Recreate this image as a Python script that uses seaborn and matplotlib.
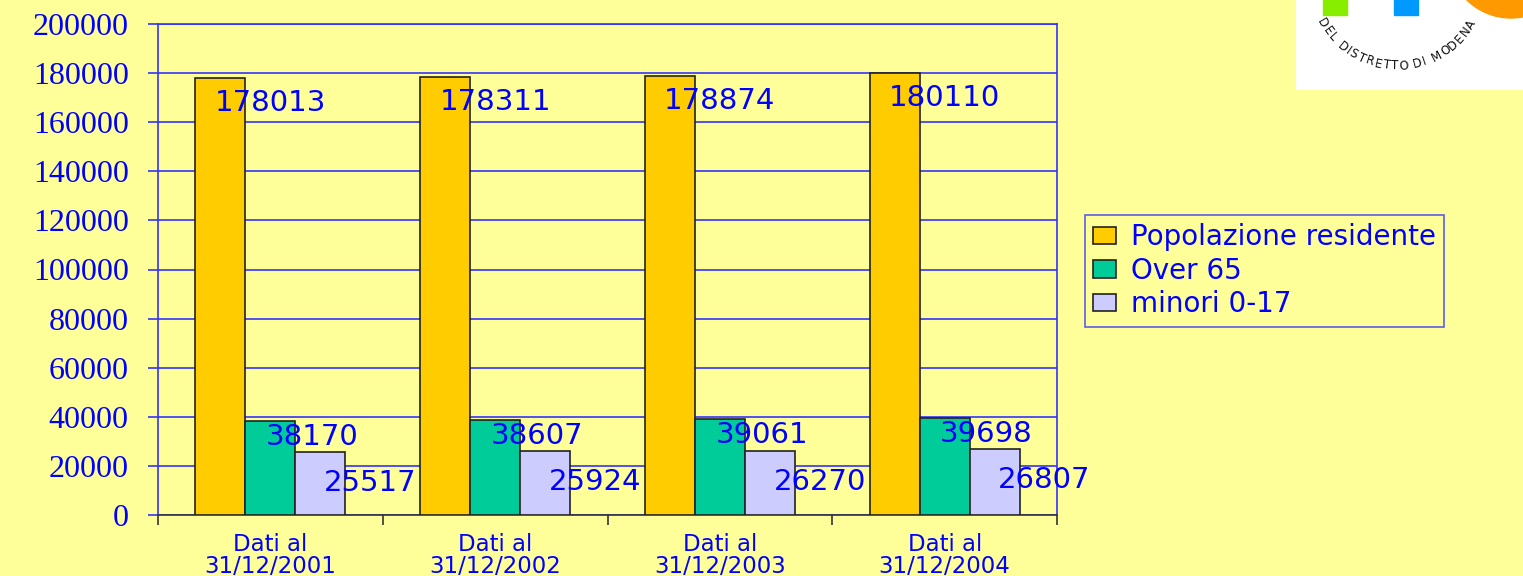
import numpy as np
import pandas as pd
import matplotlib
matplotlib.use("Agg")
import matplotlib.pyplot as plt
import matplotlib.patches as mpatches
import seaborn as sns

# data
periodi = ["Dati al\n31/12/2001", "Dati al\n31/12/2002", "Dati al\n31/12/2003", "Dati al\n31/12/2004"]
serie = ["Popolazione residente", "Over 65", "minori 0-17"]
popolazione = [178013, 178311, 178874, 180110]
over65 = [38170, 38607, 39061, 39698]
minori = [25517, 25924, 26270, 26807]

colori = ["#FFCC00", "#00CC99", "#CCCCFF"]
BG = "#FFFF99"
BLU = "#0000FF"
GRID = "#3333FF"

df = pd.DataFrame({
    "periodo": periodi * 3,
    "serie": [serie[0]] * 4 + [serie[1]] * 4 + [serie[2]] * 4,
    "valore": popolazione + over65 + minori,
})

sns.set_style("white")
plt.rcParams["font.family"] = ["DejaVu Sans"]

fig = plt.figure(figsize=(15.23, 5.76), dpi=100, facecolor=BG)
ax = fig.add_axes([158 / 1523, 61 / 576, 899 / 1523, 491 / 576])
ax.set_facecolor(BG)

sns.barplot(data=df, x="periodo", y="valore", hue="serie", palette=colori,
            width=0.667, edgecolor="#222222", linewidth=1.2, saturation=1,
            legend=False, ax=ax, zorder=3)

ax.set_ylim(0, 200000)
ax.set_xlim(-0.5, 3.5)
ax.set_yticks(np.arange(0, 200001, 20000))
ax.yaxis.grid(True, color=GRID, linewidth=1.2, zorder=0)
ax.set_axisbelow(True)
ax.set_xlabel("")
ax.set_ylabel("")

# y tick labels (serif, blue)
ax.set_yticklabels([str(v) for v in range(0, 200001, 20000)],
                   fontfamily="Liberation Serif", fontsize=23, color=BLU)
ax.tick_params(axis="y", length=7, width=1.2, color=GRID, pad=14, left=True)

# x ticks at category boundaries, labels centered
ax.set_xticks(np.arange(-0.5, 4, 1))
ax.set_xticklabels([])
ax.set_xticks(range(4), minor=True)
ax.set_xticklabels(periodi, minor=True, fontsize=16.5, color=BLU, linespacing=0.95)
ax.tick_params(axis="x", which="major", length=7, width=1.2, color="#333333", bottom=True)
ax.tick_params(axis="x", which="minor", length=0, pad=13)

for side in ["left", "top", "right"]:
    ax.spines[side].set_color(GRID)
    ax.spines[side].set_linewidth(1.2)
ax.spines["bottom"].set_color("#333333")
ax.spines["bottom"].set_linewidth(1.2)

# data labels (offset from bar top, Excel-like)
offsets = [(50, -25), (42, -16), (50, -31)]
for cont, (dx, dy) in zip(ax.containers, offsets):
    for bar in cont:
        h = bar.get_height()
        ax.annotate(f"{int(h)}", (bar.get_x() + bar.get_width() / 2, h),
                    xytext=(dx, dy), textcoords="offset pixels",
                    ha="center", va="center", fontsize=21, color=BLU, zorder=5)

# legend
handles = [mpatches.Patch(facecolor=c, edgecolor="#222222", linewidth=1.2) for c in colori]
leg = fig.legend(handles, serie, loc="upper left",
                 bbox_to_anchor=(1085 / 1523, 1 - 215 / 576),
                 fontsize=20, frameon=True, fancybox=False,
                 handlelength=0.8, handleheight=0.6, handletextpad=0.55,
                 labelspacing=0.2, borderpad=0.3, borderaxespad=0)
leg.get_frame().set_facecolor(BG)
leg.get_frame().set_edgecolor(GRID)
leg.get_frame().set_linewidth(1.2)
for t in leg.get_texts():
    t.set_color(BLU)

# logo fragment (top right)
lax = fig.add_axes([1296 / 1523, 1 - 90 / 576, 227 / 1523, 90 / 576])
lax.set_xlim(0, 227)
lax.set_ylim(90, 0)
lax.set_facecolor("white")
lax.set_xticks([])
lax.set_yticks([])
for s in lax.spines.values():
    s.set_visible(False)
lax.add_patch(mpatches.Rectangle((27, -5), 24, 20, color="#88EE00"))
lax.add_patch(mpatches.Rectangle((98, -5), 24, 20, color="#0099FF"))
lax.add_patch(mpatches.Circle((215, -45), 63, color="#FF9900"))
scritta = "DEL DISTRETTO DI MODENA"
larg = np.array([{"I": 0.45, " ": 0.6, "M": 1.35, "L": 0.85, "T": 0.9}.get(c, 1.0) for c in scritta])
pos = np.cumsum(larg) - larg / 2
angoli = -63 + 125 * pos / larg.sum()
for ch, a in zip(scritta, angoli):
    r = np.deg2rad(a)
    lax.text(101 + 86 * np.sin(r), -20 + 86 * np.cos(r), ch, rotation=a,
             ha="center", va="center", fontsize=8.5, color="#111111",
             rotation_mode="anchor")

fig.savefig("out.png", dpi=100, facecolor=BG)
